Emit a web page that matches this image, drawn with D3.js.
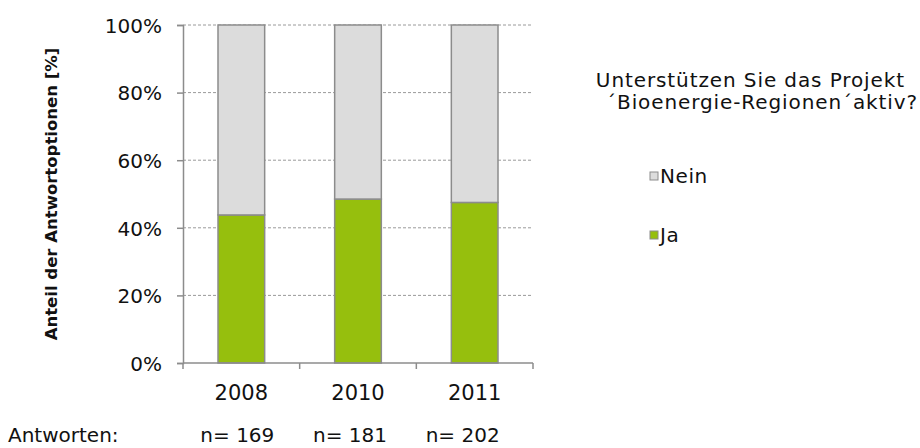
<!DOCTYPE html>
<html>
<head>
<meta charset="utf-8">
<script src="https://cdn.jsdelivr.net/npm/d3@7"></script>
<style>
  html, body { margin: 0; padding: 0; background: #fff; }
  svg { display: block; font-family: "DejaVu Sans", Verdana, sans-serif; }
</style>
</head>
<body>
<svg id="chart" width="920" height="448"></svg>
<script>
// Survey years and share of "Ja" answers (percent); "Nein" fills the rest
const years = ["2008", "2010", "2011"];
const jaValues = [43.8, 48.5, 47.5];
const neinValues = jaValues.map(v => 100 - v);
const responses = ["n= 169", "n= 181", "n= 202"];
const yTicks = [0, 20, 40, 60, 80, 100];
const seriesNames = ["Nein", "Ja"];
const seriesColors = { Ja: "#96bf0d", Nein: "#dcdcdc" };

const svg = d3.select("#chart");
const margin = { left: 183, right: 387, top: 25, bottom: 85 };
const W = 920, H = 448;
const textColor = "#111";
const axisColor = "#8c8c8c";

const x = d3.scaleBand().domain(years).range([margin.left, W - margin.right]).paddingInner(0.6).paddingOuter(0.3);
const y = d3.scaleLinear().domain([0, 100]).range([H - margin.bottom, margin.top]);

const rows = years.map((yr, i) => ({ year: yr, Ja: jaValues[i], Nein: neinValues[i] }));
const stacked = d3.stack().keys(["Ja", "Nein"])(rows);

// dashed gridlines
svg.append("g").selectAll("line").data(yTicks.filter(t => t > 0)).join("line")
  .attr("x1", margin.left).attr("x2", W - margin.right)
  .attr("y1", d => y(d)).attr("y2", d => y(d))
  .attr("stroke", "#9a9a9a").attr("stroke-width", 1).attr("stroke-dasharray", "3,2");

// stacked bars
svg.append("g").selectAll("g").data(stacked).join("g")
  .attr("fill", d => seriesColors[d.key])
  .selectAll("rect").data(d => d).join("rect")
  .attr("x", d => x(d.data.year))
  .attr("width", x.bandwidth())
  .attr("y", d => y(d[1]))
  .attr("height", d => y(d[0]) - y(d[1]))
  .attr("stroke", axisColor).attr("stroke-width", 1.5);

// y axis
const yAxis = svg.append("g").attr("transform", `translate(${margin.left},0)`)
  .call(d3.axisLeft(y).tickValues(yTicks).tickFormat(d => d + "%").tickSize(6).tickPadding(15));
yAxis.attr("font-family", null).attr("font-size", null);
yAxis.select(".domain").attr("stroke", axisColor).attr("stroke-width", 1.5);
yAxis.selectAll(".tick line").attr("stroke", axisColor).attr("stroke-width", 1.5);
yAxis.selectAll("text").attr("font-size", 20).attr("fill", textColor).attr("dy", "0.36em");

// x axis with ticks at band boundaries
const xAxisG = svg.append("g").attr("transform", `translate(0,${y(0)})`);
xAxisG.append("line").attr("x1", margin.left).attr("x2", W - margin.right)
  .attr("stroke", axisColor).attr("stroke-width", 1.5);
const step = (W - margin.right - margin.left) / years.length;
xAxisG.selectAll("line.tk").data(d3.range(years.length + 1)).join("line").attr("class", "tk")
  .attr("x1", i => margin.left + i * step).attr("x2", i => margin.left + i * step)
  .attr("y1", 0).attr("y2", 6).attr("stroke", axisColor).attr("stroke-width", 1.5);
xAxisG.selectAll("text").data(years).join("text")
  .attr("x", d => x(d) + x.bandwidth() / 2).attr("y", 37)
  .attr("text-anchor", "middle").attr("font-size", 21).attr("fill", textColor).text(d => d);

// response counts
svg.append("text").attr("x", 8).attr("y", 442).attr("font-size", 20).attr("fill", textColor).text("Antworten:");
svg.append("g").selectAll("text").data(responses).join("text")
  .attr("x", (d, i) => x(years[i]) + x.bandwidth() / 2 - 4 - i * 4).attr("y", 442)
  .attr("text-anchor", "middle").attr("font-size", 20).attr("fill", textColor).text(d => d);

// y axis title
svg.append("text")
  .attr("transform", `translate(57,${(y(0) + y(100)) / 2}) rotate(-90)`)
  .attr("text-anchor", "middle").attr("font-size", 16.5).attr("font-weight", "bold").attr("fill", textColor)
  .text("Anteil der Antwortoptionen [%]");

// legend title
const lt = svg.append("text").attr("font-size", 20).attr("fill", textColor).attr("text-anchor", "end")
  .attr("letter-spacing", 0.9);
lt.append("tspan").attr("x", 905).attr("y", 87).text("Unterstützen Sie das Projekt");
lt.append("tspan").attr("x", 918).attr("y", 109).text("´Bioenergie-Regionen´aktiv?");

// legend items
const leg = svg.append("g").selectAll("g").data(seriesNames).join("g")
  .attr("transform", (d, i) => `translate(650,${176 + i * 59})`);
leg.append("rect").attr("x", 0).attr("y", -4).attr("width", 8).attr("height", 8)
  .attr("fill", d => seriesColors[d]).attr("stroke", axisColor).attr("stroke-width", 1);
leg.append("text").attr("x", 10).attr("y", 0).attr("dy", "0.36em")
  .attr("font-size", 20).attr("letter-spacing", 0.6).attr("fill", textColor).text(d => d);
</script>
</body>
</html>
